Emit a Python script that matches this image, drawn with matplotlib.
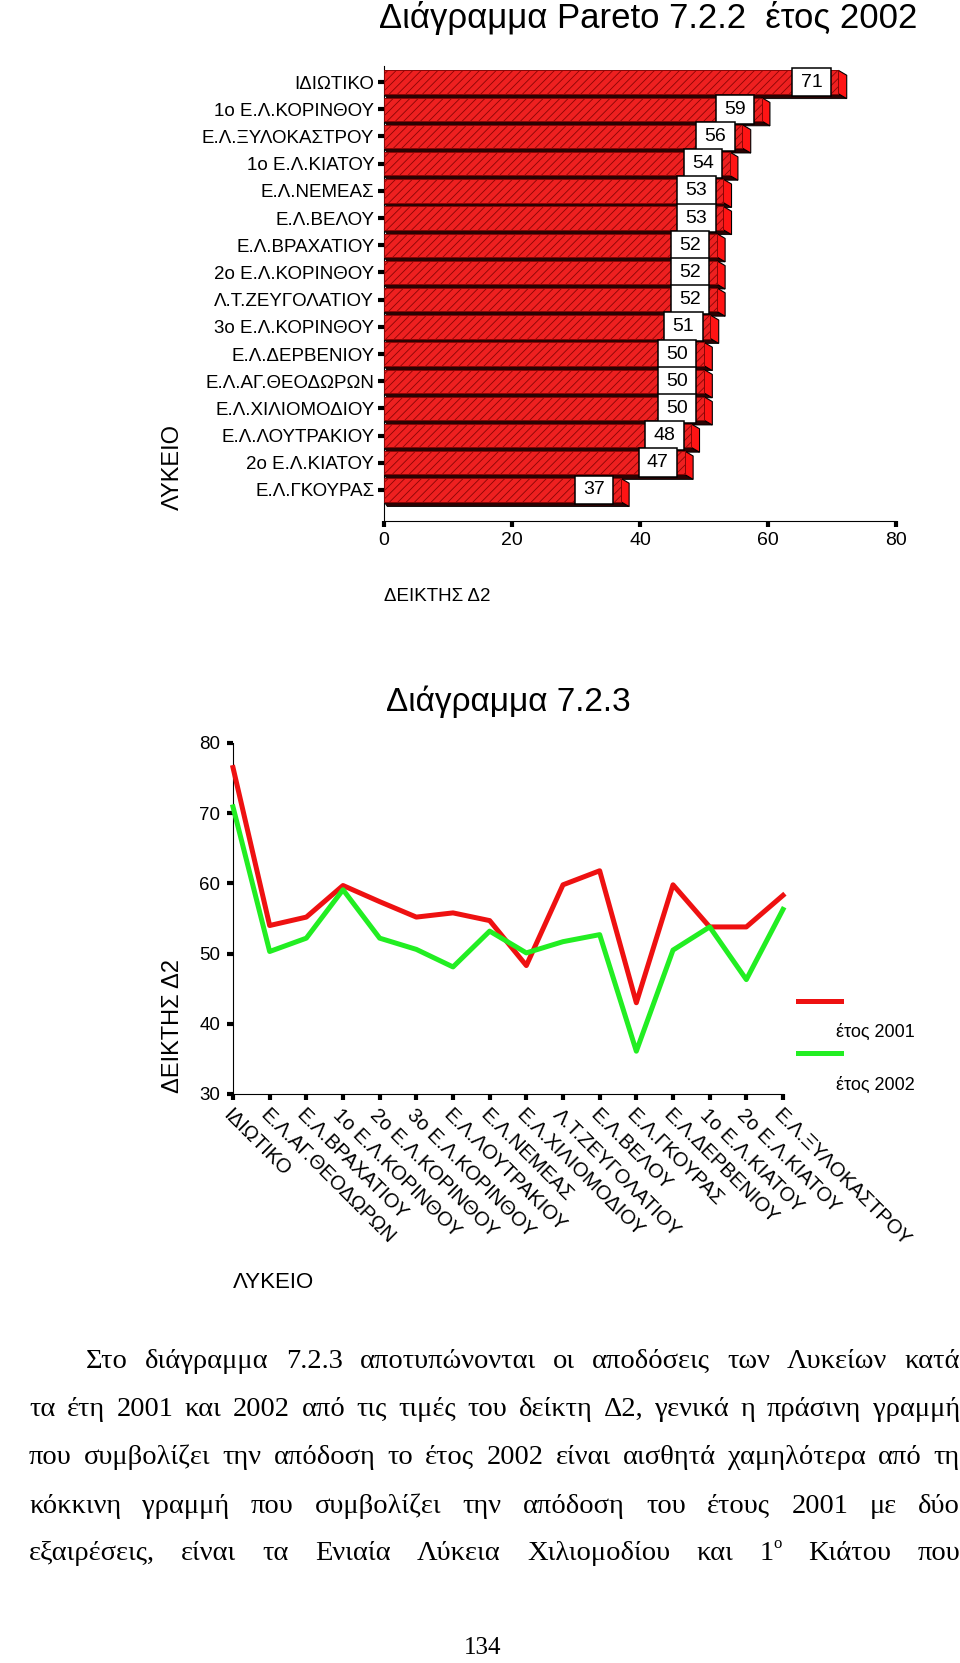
import numpy as np
import matplotlib
matplotlib.use('Agg')
import matplotlib.pyplot as plt
from matplotlib.patches import Polygon, Rectangle
from matplotlib.lines import Line2D
from matplotlib.transforms import ScaledTranslation

# --- data -------------------------------------------------------------
pareto_labels = ['ΙΔΙΩΤΙΚΟ', '1ο Ε.Λ.ΚΟΡΙΝΘΟΥ', 'Ε.Λ.ΞΥΛΟΚΑΣΤΡΟΥ', '1ο Ε.Λ.ΚΙΑΤΟΥ',
                 'Ε.Λ.ΝΕΜΕΑΣ', 'Ε.Λ.ΒΕΛΟΥ', 'Ε.Λ.ΒΡΑΧΑΤΙΟΥ', '2ο Ε.Λ.ΚΟΡΙΝΘΟΥ',
                 'Λ.Τ.ΖΕΥΓΟΛΑΤΙΟΥ', '3ο Ε.Λ.ΚΟΡΙΝΘΟΥ', 'Ε.Λ.ΔΕΡΒΕΝΙΟΥ', 'Ε.Λ.ΑΓ.ΘΕΟΔΩΡΩΝ',
                 'Ε.Λ.ΧΙΛΙΟΜΟΔΙΟΥ', 'Ε.Λ.ΛΟΥΤΡΑΚΙΟΥ', '2ο Ε.Λ.ΚΙΑΤΟΥ', 'Ε.Λ.ΓΚΟΥΡΑΣ']
pareto_values = [71, 59, 56, 54, 53, 53, 52, 52, 52, 51, 50, 50, 50, 48, 47, 37]
pareto_ticks = [0, 20, 40, 60, 80]

line_labels = ['ΙΔΙΩΤΙΚΟ', 'Ε.Λ.ΑΓ.ΘΕΟΔΩΡΩΝ', 'Ε.Λ.ΒΡΑΧΑΤΙΟΥ', '1ο Ε.Λ.ΚΟΡΙΝΘΟΥ',
               '2ο Ε.Λ.ΚΟΡΙΝΘΟΥ', '3ο Ε.Λ.ΚΟΡΙΝΘΟΥ', 'Ε.Λ.ΛΟΥΤΡΑΚΙΟΥ', 'Ε.Λ.ΝΕΜΕΑΣ',
               'Ε.Λ.ΧΙΛΙΟΜΟΔΙΟΥ', 'Λ.Τ.ΖΕΥΓΟΛΑΤΙΟΥ', 'Ε.Λ.ΒΕΛΟΥ', 'Ε.Λ.ΓΚΟΥΡΑΣ',
               'Ε.Λ.ΔΕΡΒΕΝΙΟΥ', '1ο Ε.Λ.ΚΙΑΤΟΥ', '2ο Ε.Λ.ΚΙΑΤΟΥ', 'Ε.Λ.ΞΥΛΟΚΑΣΤΡΟΥ']
d2_2001 = [76.5, 54.0, 55.2, 59.7, 57.4, 55.2, 55.8, 54.7, 48.3, 59.8, 61.8, 43.0, 59.8, 53.8, 53.8, 58.3]
d2_2002 = [70.9, 50.3, 52.2, 59.1, 52.2, 50.6, 48.1, 53.2, 50.1, 51.7, 52.7, 36.1, 50.5, 53.8, 46.3, 56.3]
line_yticks = [30, 40, 50, 60, 70, 80]

paragraph = [
    'Στο διάγραμμα 7.2.3 αποτυπώνονται οι αποδόσεις των Λυκείων κατά',
    'τα έτη 2001 και 2002 από τις τιμές του δείκτη Δ2, γενικά η πράσινη γραμμή',
    'που συμβολίζει την απόδοση το έτος 2002 είναι αισθητά χαμηλότερα από τη',
    'κόκκινη γραμμή που συμβολίζει την απόδοση του έτους 2001 με δύο',
    'εξαιρέσεις, είναι τα Ενιαία Λύκεια Χιλιομοδίου και 1^ο Κιάτου που',
]

plt.rcParams['font.family'] = ['Liberation Sans', 'DejaVu Sans']
plt.rcParams['hatch.linewidth'] = 0.6

W, H = 960, 1663
fig = plt.figure(figsize=(9.6, 16.63), dpi=100)


def fx(px):
    return px / W


def fy(py):
    return 1 - py / H


RED = '#ee1111'
GREEN = '#22ee22'

# --- Pareto bar chart ---------------------------------------------------
ax1 = fig.add_axes([fx(384), fy(521), fx(896) - fx(384), fy(66) - fy(521)])
n = len(pareto_labels)
ypos = np.arange(n)[::-1]
h, dx, dy = 0.86, 1.3, 0.18

for v, y in zip(pareto_values, ypos):
    yb, yt = y - h / 2, y + h / 2
    ax1.add_patch(Polygon([(0, yb), (v, yb), (v + dx, yb - dy), (dx * 0.4, yb - dy)],
                          closed=True, fc='#2a0303', ec='black', lw=0.6, zorder=2))
    ax1.add_patch(Polygon([(v, yb), (v, yt), (v + dx, yt - dy), (v + dx, yb - dy)],
                          closed=True, fc='#ff1414', ec='black', lw=0.8, zorder=2))

ax1.barh(ypos, pareto_values, height=h, color='#ee2020', edgecolor='#8a0505',
         hatch='////', linewidth=0.7, zorder=3)

for v, y in zip(pareto_values, ypos):
    bw = 6.0
    ax1.add_patch(Rectangle((v - 1.2 - bw, y - 0.53), bw, 1.06, fc='white', ec='black',
                            lw=1.1, zorder=4))
    ax1.text(v - 1.2 - bw / 2, y, str(v), ha='center', va='center', fontsize=14, zorder=5)

ax1.set_xlim(0, 80)
ax1.set_ylim(-1.14, 15.59)
ax1.set_xticks(pareto_ticks)
ax1.set_yticks(ypos)
ax1.set_yticklabels(pareto_labels)
ax1.spines['top'].set_visible(False)
ax1.spines['right'].set_visible(False)
ax1.tick_params(axis='y', length=4, width=3, direction='out', pad=3, labelsize=13.5)
ax1.tick_params(axis='x', length=4, width=3, direction='out', pad=4, labelsize=14)

fig.text(fx(648), fy(18), 'Διάγραμμα Pareto 7.2.2  έτος 2002', ha='center', va='center', fontsize=25)
fig.text(fx(173), fy(467), 'ΛΥΚΕΙΟ', rotation=90, ha='center', va='center', fontsize=17)
fig.text(fx(384), fy(597), 'ΔΕΙΚΤΗΣ Δ2', ha='left', va='center', fontsize=13.5)

# --- line chart ---------------------------------------------------------
ax2 = fig.add_axes([fx(233), fy(1094), fx(783) - fx(233), fy(743) - fy(1094)])
xs = np.arange(len(line_labels))
ax2.plot(xs, d2_2001, color=RED, lw=3.6, clip_on=False, zorder=3)
ax2.plot(xs, d2_2002, color=GREEN, lw=3.6, clip_on=False, zorder=4)
ax2.set_xlim(0, len(line_labels) - 1)
ax2.set_ylim(30, 80)
ax2.set_yticks(line_yticks)
ax2.set_xticks(xs)
ax2.set_xticklabels(line_labels, rotation=-45, ha='left', va='top', rotation_mode='anchor',
                    fontsize=14.5)
offset = ScaledTranslation(3 / 100, -4 / 100, fig.dpi_scale_trans)
for lab in ax2.get_xticklabels():
    lab.set_transform(lab.get_transform() + offset)
ax2.spines['top'].set_visible(False)
ax2.spines['right'].set_visible(False)
ax2.tick_params(axis='y', length=4, width=3, direction='out', pad=5, labelsize=13.5)
ax2.tick_params(axis='x', length=4, width=3, direction='out', pad=4)

fig.text(fx(508), fy(702), 'Διάγραμμα 7.2.3', ha='center', va='center', fontsize=24)
fig.text(fx(173), fy(1026), 'ΔΕΙΚΤΗΣ Δ2', rotation=90, ha='center', va='center', fontsize=17)
fig.text(fx(233), fy(1283), 'ΛΥΚΕΙΟ', ha='left', va='center', fontsize=16)

# legend (labels sit below their lines, as in the original)
fig.add_artist(Line2D([fx(798), fx(841)], [fy(1001), fy(1001)], color=RED, lw=3.6))
fig.add_artist(Line2D([fx(798), fx(841)], [fy(1053), fy(1053)], color=GREEN, lw=3.6))
fig.text(fx(836), fy(1032), 'έτος 2001', ha='left', va='center', fontsize=13)
fig.text(fx(836), fy(1085), 'έτος 2002', ha='left', va='center', fontsize=13)

# --- justified paragraph ------------------------------------------------
serif = ['Liberation Serif', 'DejaVu Serif']
renderer = fig.canvas.get_renderer()


def text_width(s, size):
    t = fig.text(0, 0, s, fontsize=size, family=serif)
    w = t.get_window_extent(renderer).width
    t.remove()
    return w


fs, sup_fs = 20.5, 12
baselines = [1368, 1416, 1464, 1513, 1560]
starts = [86, 29, 29, 29, 29]
right = 960
for line, base, x0 in zip(paragraph, baselines, starts):
    words = line.split(' ')
    parts = []
    for wd in words:
        if '^' in wd:
            b, s = wd.split('^')
            parts.append((b, s, text_width(b, fs), text_width(s, sup_fs)))
        else:
            parts.append((wd, '', text_width(wd, fs), 0))
    total = sum(p[2] + p[3] for p in parts)
    gap = (right - x0 - total) / (len(parts) - 1)
    x = x0
    for b, s, wb, ws in parts:
        fig.text(fx(x), fy(base), b, ha='left', va='baseline', fontsize=fs, family=serif)
        if s:
            fig.text(fx(x + wb), fy(base - 12), s, ha='left', va='baseline',
                     fontsize=sup_fs, family=serif)
        x += wb + ws + gap

fig.text(fx(483), fy(1648), '134', ha='center', va='center', fontsize=18, family=serif)

fig.savefig('out.png', dpi=100)
